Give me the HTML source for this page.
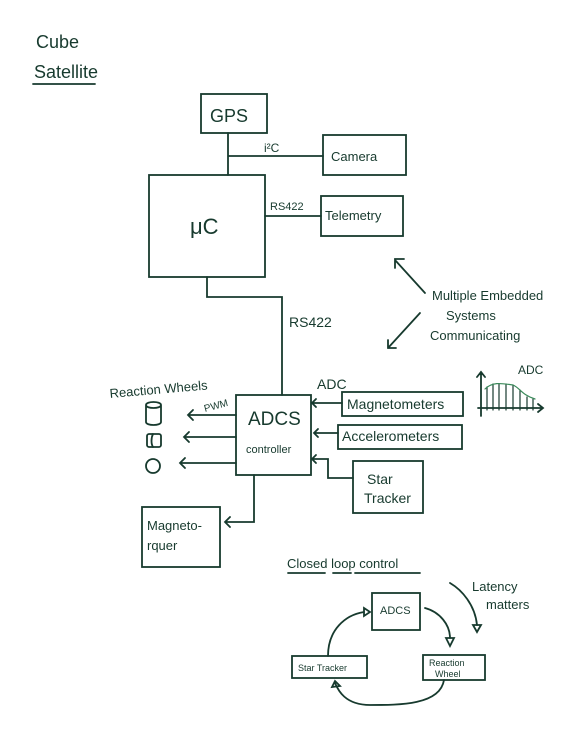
<!DOCTYPE html>
<html><head><style>
body{margin:0;background:#fff}
svg{display:block}
text{font-family:"Liberation Sans",sans-serif;fill:#173a2e}
</style></head><body>
<svg width="566" height="746" viewBox="0 0 566 746" xmlns="http://www.w3.org/2000/svg">
<g fill="none" stroke="#173a2e" stroke-width="1.8" stroke-linecap="round">
<!-- top boxes -->
<rect x="201" y="94" width="66" height="39"/>
<rect x="323" y="135" width="83" height="40"/>
<rect x="149" y="175" width="116" height="102"/>
<rect x="321" y="196" width="82" height="40"/>
<path d="M228 133V175M228 156H323M265 216H321M207 277V297H282V395"/>
<!-- ADCS -->
<rect x="236" y="395" width="75" height="80"/>
<rect x="342" y="392" width="121" height="24"/>
<rect x="338" y="425" width="124" height="24"/>
<rect x="353" y="461" width="70" height="52"/>
<rect x="142" y="507" width="78" height="60"/>
<path d="M342 403H312M316 399L312 403L316 407"/>
<path d="M338 433H314M318 429L314 433L318 437"/>
<path d="M353 478H328V459H312M316 455L312 459L316 463"/>
<path d="M236 415H188M193 410L188 415L193 420"/>
<path d="M236 437H184M189 432L184 437L189 442"/>
<path d="M236 463H180M185 458L180 463L185 468"/>
<path d="M254 475V522H225M230 517L225 522L230 527"/>
<!-- wheels -->
<path d="M146 405C146 401,161 401,161 405V422C161 426,146 426,146 422Z M146 405C146 409,161 409,161 405"/>
<rect x="147" y="434" width="14" height="13" rx="2"/>
<path d="M153 434C151 438,151 444,153 447"/>
<circle cx="153" cy="466" r="7"/>
<!-- ADC graph -->
<path d="M481 416V372M477 377L481 372L485 377M478 408H543M538 404L543 408L538 412"/>
<path d="M487 410V387M493 410V384M499 410V384M506 410V384M513 410V385M520 410V390M527 410V397M533 410V399" stroke-width="1.2"/>
<path d="M485 389C492 382,500 383,513 385C520 388,522 395,535 399" stroke="#3a8a5a" stroke-width="1.2"/>
<!-- annotation arrows -->
<path d="M425 293L395 260M395 268V259H404"/>
<path d="M420 313L388 348M388 340V348H396"/>
<!-- titles underline -->
<path d="M33 84H95M288 573H325M333 573H351M355 573H420"/>
<!-- closed loop -->
<rect x="372" y="593" width="48" height="37"/>
<rect x="292" y="656" width="75" height="22"/>
<rect x="423" y="655" width="62" height="25"/>
<path d="M425 608C440 612,450 625,450 638"/>
<path d="M446 638L450 646L454 638Z"/>
<path d="M328 656C328 630,345 615,364 612"/>
<path d="M364 608L370 612L364 616Z"/>
<path d="M444 680C440 705,400 705,370 705C345 705,338 690,335 683"/>
<path d="M332 687L335 681L340 686Z"/>
<path d="M450 583C462 590,475 605,477 625"/>
<path d="M473 625L477 632L481 625Z"/>
</g>
<g font-size="16">
<text x="36" y="48" font-size="18">Cube</text>
<text x="34" y="78" font-size="18">Satellite</text>
<text x="210" y="122" font-size="18">GPS</text>
<text x="264" y="152" font-size="12">i²C</text>
<text x="331" y="161" font-size="13">Camera</text>
<text x="190" y="234" font-size="22">μC</text>
<text x="270" y="210" font-size="11">RS422</text>
<text x="325" y="220" font-size="13">Telemetry</text>
<text x="289" y="327" font-size="14">RS422</text>
<text x="432" y="300" font-size="13">Multiple Embedded</text>
<text x="446" y="320" font-size="13">Systems</text>
<text x="430" y="340" font-size="13">Communicating</text>
<text x="317" y="389" font-size="14">ADC</text>
<text x="518" y="374" font-size="12">ADC</text>
<text x="110" y="398" font-size="13" transform="rotate(-5 110 398)">Reaction Wheels</text>
<text x="205" y="412" font-size="10" transform="rotate(-15 205 412)">PWM</text>
<text x="248" y="425" font-size="19">ADCS</text>
<text x="246" y="453" font-size="11">controller</text>
<text x="347" y="409" font-size="14">Magnetometers</text>
<text x="342" y="441" font-size="14">Accelerometers</text>
<text x="367" y="484" font-size="14">Star</text>
<text x="364" y="503" font-size="14">Tracker</text>
<text x="147" y="530" font-size="13">Magneto-</text>
<text x="147" y="550" font-size="13">rquer</text>
<text x="287" y="568" font-size="13">Closed loop control</text>
<text x="472" y="591" font-size="13">Latency</text>
<text x="486" y="609" font-size="13">matters</text>
<text x="380" y="614" font-size="11">ADCS</text>
<text x="298" y="671" font-size="9">Star Tracker</text>
<text x="429" y="666" font-size="9">Reaction</text>
<text x="435" y="677" font-size="9">Wheel</text>
</g>
</svg>
</body></html>
